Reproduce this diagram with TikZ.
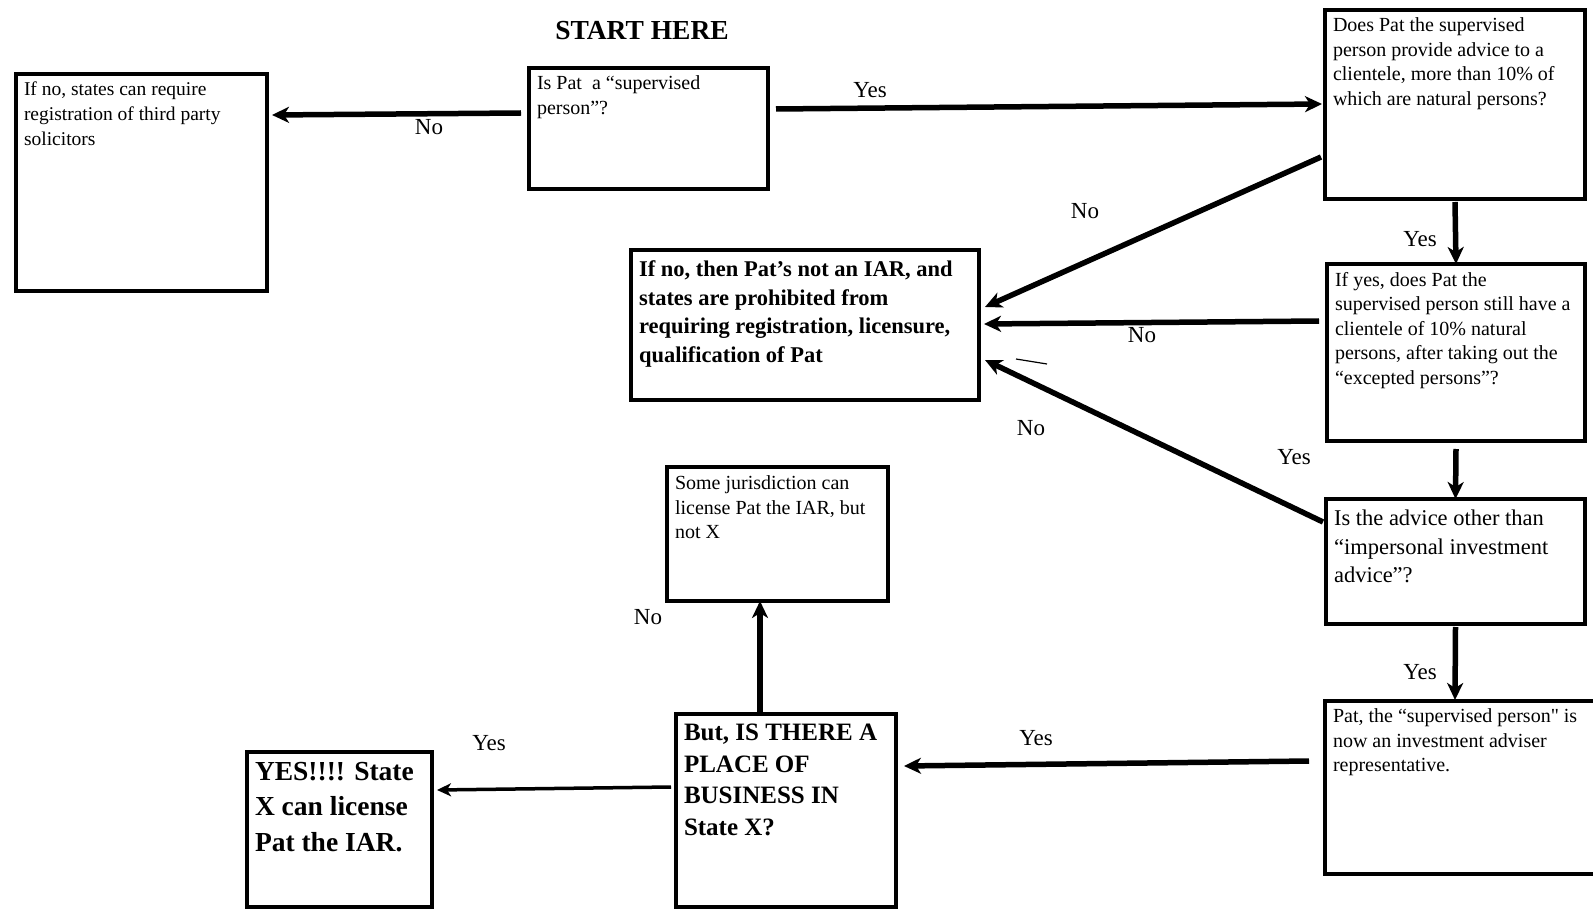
\documentclass[tikz,border=0pt]{standalone}
\usepackage{fontspec}
\setmainfont{Liberation Serif}
\newfontfamily\rawserif{Liberation Serif}[Ligatures=TeXOff]
\usetikzlibrary{arrows.meta,calc}
\newcommand\bxt[4]{\parbox[c][#2][t]{#1}{\vspace*{#3}\raggedright #4}}
\newcommand\nf{\fontsize{20}{24.5}\selectfont}
\begin{document}
\begin{tikzpicture}[x=1pt,y=1pt,
 box/.style={draw, line width=4.8pt, inner xsep=8pt, inner ysep=8pt, anchor=north west, outer sep=0pt, fill=white},
 arr/.style={line width=5.5pt, -{Stealth[length=17pt,width=16pt,inset=5pt]}},
 thinarr/.style={line width=3.5pt, -{Stealth[length=14pt,width=13pt,inset=4pt]}},
 lbl/.style={font=\fontsize{23}{23}\selectfont, inner sep=0pt},
 ]
\useasboundingbox (0,0) rectangle (1593,-909);
\fill[white] (0,0) rectangle (1593,-909);

\node[inner sep=0pt, font=\fontsize{27.5}{28}\selectfont\bfseries] (start) at (642,-31) {START HERE};

\node[box] (A) at (16,-74) {\bxt{235pt}{201pt}{0pt}{\fontsize{19.5}{25}\selectfont If no, states can require\\registration of third party\\solicitors}};
\node[box] (B) at (529,-68) {\bxt{223pt}{105pt}{0pt}{\nf Is Pat\ \ a “supervised\\person”?}};
\node[box] (C) at (1325,-10) {\bxt{244pt}{173pt}{0pt}{\nf Does Pat the supervised\\person provide advice to a\\clientele, more than 10\%~of\\which are natural persons?}};
\node[box] (D) at (631,-250) {\bxt{332pt}{134pt}{3pt}{\fontsize{22.5}{28.5}\selectfont\bfseries If no, then Pat’s not an IAR, and\\states are prohibited from\\requiring registration, licensure,\\qualification of Pat}};
\node[box] (E) at (1327,-264) {\bxt{242pt}{161pt}{0pt}{\nf If yes, does Pat the\\supervised person still have a\\clientele of 10\%~natural\\persons, after taking out the\\“excepted persons”?}};
\node[box] (F) at (1326,-499) {\bxt{243pt}{109pt}{3pt}{\fontsize{22.5}{28.5}\selectfont Is the advice other than\\“impersonal investment\\advice”?}};
\node[box] (G) at (1325,-701) {\bxt{257pt}{157pt}{0pt}{\nf Pat, the “supervised person{\rawserif "} is\\now an investment adviser\\representative.}};
\node[box] (H) at (667,-467) {\bxt{205pt}{118pt}{1pt}{\nf Some jurisdiction can\\license Pat the IAR, but\\not X}};
\node[box] (I) at (676,-714) {\bxt{204pt}{177pt}{2pt}{\fontsize{25}{31.5}\selectfont\bfseries But, IS THERE A\\PLACE OF\\BUSINESS IN\\State X?}};
\node[box] (J) at (247,-752) {\bxt{169pt}{139pt}{2pt}{\fontsize{27.5}{35.5}\selectfont\bfseries YES!!!! State\\X can license\\Pat the IAR.}};

% connectors
\draw[arr] ($(B.north west)+(-8,-45)$) -- ($(A.north east)+(5,-41)$);
\draw[arr] ($(B.north east)+(8,-41)$) -- ($(C.north west)+(-3,-94)$);
\draw[arr] ($(C.north west)+(-4,-147)$) -- ($(D.north east)+(6,-57)$);
\draw[arr] ([yshift=-3pt]C.south) -- (E.north);
\draw[arr] ($(E.north west)+(-8,-57)$) -- ($(D.north east)+(5,-74)$);
\draw[arr] ([yshift=-8pt]E.south) -- (F.north);
\draw[arr] ($(F.north west)+(-3,-23)$) -- ($(D.north east)+(6,-110)$);
\draw[arr] ([yshift=-3pt]F.south) -- ($(G.north west)+(130,1)$);
\draw[arr] ($(G.north west)+(-16,-60)$) -- ($(I.north east)+(8,-52)$);
\draw[arr] ($(I.north west)+(84,-2)$) -- ($(H.south west)+(93,0)$);
\draw[thinarr] ($(I.north west)+(-5,-73)$) -- ($(J.north east)+(5,-38)$);

% stray mark
\draw[line width=1.2pt] (1016,-359) -- (1047,-364);

% labels
\node[lbl] (l1) at (429,-127) {No};
\node[lbl] (l2) at (870,-90) {Yes};
\node[lbl] (l3) at (1085,-211) {No};
\node[lbl] (l4) at (1420,-239) {Yes};
\node[lbl] (l5) at (1142,-335) {No};
\node[lbl] (l6) at (1294,-457) {Yes};
\node[lbl] (l7) at (1031,-428) {No};
\node[lbl] (l8) at (1420,-672) {Yes};
\node[lbl] (l9) at (1036,-738) {Yes};
\node[lbl] (l10) at (648,-617) {No};
\node[lbl] (l11) at (489,-743) {Yes};
\end{tikzpicture}
\end{document}
